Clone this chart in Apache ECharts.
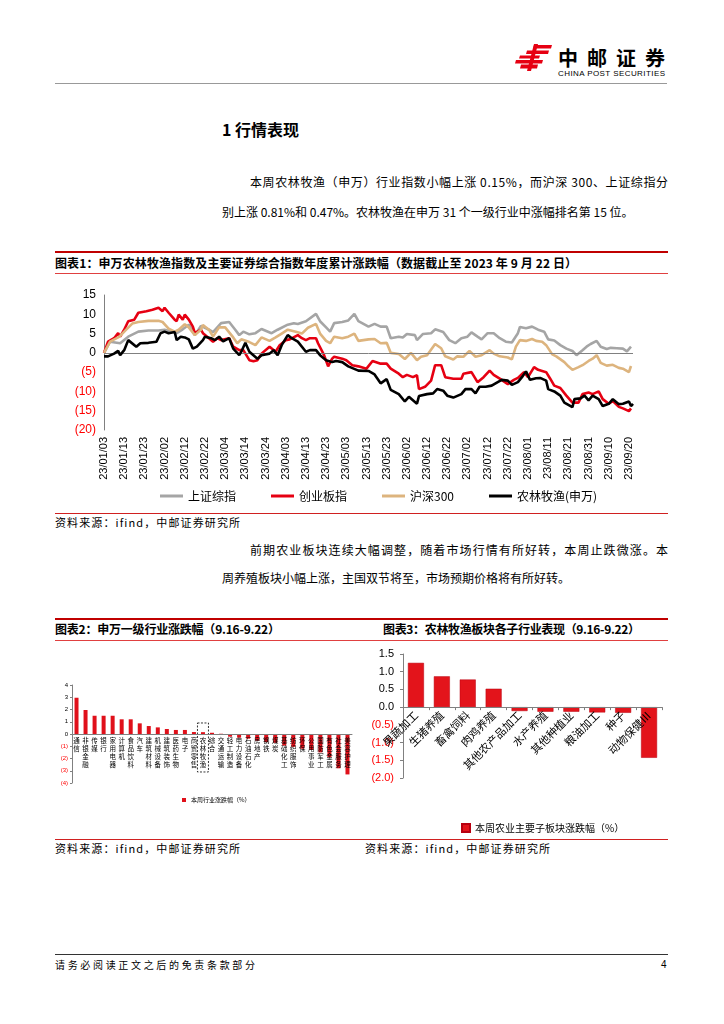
<!DOCTYPE html>
<html><head><meta charset="utf-8">
<script src="https://cdn.jsdelivr.net/npm/echarts/dist/echarts.min.js"></script>
<style>
body{margin:0;background:#fff;}
#page{position:relative;width:724px;height:1024px;overflow:hidden;font-family:"Noto Sans CJK SC","Noto Sans",sans-serif;color:#000;background:#fff;}
.t{position:absolute;white-space:nowrap;line-height:1;}
.ln{position:absolute;height:0;}
.chart{position:absolute;}
</style></head>
<body><div id="page">
<!-- header -->
<svg class="chart" style="left:510px;top:40px" width="48" height="36" viewBox="510 40 48 36">
  <polygon points="534,45 552,45 551,48.5 533,48.5" fill="#E60012"/>
  <polygon points="527,50.5 549,50.5 548,54 526,54" fill="#E60012"/>
  <polygon points="516,60 543,60 542,63.5 515,63.5" fill="#E60012"/>
  <polygon points="521,64.5 538,64.5 537,68.5 520,68.5" fill="#E60012"/>
  <polygon points="534,44 538,44 531,71 527,71" fill="#E60012"/>
  <polygon points="520,55.5 540,55.5 539,58.5 519,58.5" fill="#E60012"/>
</svg>
<div class="t" id="logoCn" style="left:558px;top:48px;font-size:20px;font-weight:700;">中邮证券</div>
<div class="t" id="logoEn" style="left:558px;top:70px;font-size:8px;font-family:'Liberation Sans',Arial,sans-serif;">CHINA POST SECURITIES</div>
<div class="ln" style="left:55px;top:83px;width:612px;border-top:1px solid #999;"></div>

<div class="t" style="left:222px;top:121px;font-size:16px;font-weight:700;">1&nbsp;行情表现</div>
<div class="t fit" data-w="418" style="left:250px;top:176px;font-size:12px;">本周农林牧渔（申万）行业指数小幅上涨 0.15%，而沪深 300、上证综指分</div>
<div class="t" style="left:222px;top:206px;font-size:12px;">别上涨 0.81%和 0.47%。农林牧渔在申万 31 个一级行业中涨幅排名第 15 位。</div>

<!-- figure 1 -->
<div class="ln" style="left:55px;top:251px;width:613px;border-top:2px solid #C00000;"></div>
<div class="t fit" data-w="522" style="left:55px;top:257px;font-size:12px;font-weight:700;">图表1：申万农林牧渔指数及主要证券综合指数年度累计涨跌幅（数据截止至 2023 年 9 月 22 日）</div>
<div class="ln" style="left:55px;top:273px;width:613px;border-top:1px solid #E04040;"></div>
<div class="chart" id="c1" style="left:55px;top:280px;width:613px;height:228px;"></div>
<div class="ln" style="left:55px;top:513px;width:613px;border-top:1px solid #D02020;"></div>
<div class="t fit" data-w="185" style="left:55px;top:517px;font-size:11px;">资料来源：ifind，中邮证券研究所</div>

<div class="t fit" data-w="418" style="left:250px;top:544px;font-size:12px;">前期农业板块连续大幅调整，随着市场行情有所好转，本周止跌微涨。本</div>
<div class="t" style="left:222px;top:572px;font-size:12px;">周养殖板块小幅上涨，主国双节将至，市场预期价格将有所好转。</div>

<!-- figures 2/3 -->
<div class="ln" style="left:55px;top:618px;width:613px;border-top:2px solid #C00000;"></div>
<div class="t fit" data-w="225" style="left:55px;top:623px;font-size:12px;font-weight:700;">图表2：申万一级行业涨跌幅（9.16-9.22）</div>
<div class="t fit" data-w="257" style="left:383px;top:623px;font-size:12px;font-weight:700;">图表3：农林牧渔板块各子行业表现（9.16-9.22）</div>
<div class="ln" style="left:55px;top:640px;width:613px;border-top:1px solid #E04040;"></div>
<div class="chart" id="c2" style="left:55px;top:645px;width:305px;height:190px;"></div>
<div class="chart" id="c3" style="left:360px;top:645px;width:308px;height:190px;"></div>
<div class="ln" style="left:55px;top:839px;width:613px;border-top:1px solid #D02020;"></div>
<div class="t fit" data-w="185" style="left:55px;top:843px;font-size:11px;">资料来源：ifind，中邮证券研究所</div>
<div class="t fit" data-w="185" style="left:365px;top:843px;font-size:11px;">资料来源：ifind，中邮证券研究所</div>

<!-- footer -->
<div class="ln" style="left:55px;top:954px;width:613px;border-top:1.5px solid #333;"></div>
<div class="t fit" data-w="200" style="left:55px;top:960px;font-size:10px;">请务必阅读正文之后的免责条款部分</div>
<div class="t" style="left:661px;top:960px;font-size:10px;font-family:'Liberation Sans',Arial,sans-serif;">4</div>
</div>
<script>
// ---------- Figure 1 data (x = calendar days since 2023-01-03) ----------
const xTickLabels = ['23/01/03','23/01/13','23/01/23','23/02/02','23/02/12','23/02/22','23/03/04','23/03/14','23/03/24','23/04/03','23/04/13','23/04/23','23/05/03','23/05/13','23/05/23','23/06/02','23/06/12','23/06/22','23/07/02','23/07/12','23/07/22','23/08/01','23/08/11','23/08/21','23/08/31','23/09/10','23/09/20'];
const seriesNames = ['上证综指','创业板指','沪深300','农林牧渔(申万)'];
const shComposite = [[0,0],[3,2.9],[8,2.5],[12,4.2],[17,5.5],[22,5.8],[27,5.8],[30,6.0],[34,5.5],[36,5.1],[39,6.1],[42,7.3],[45,4.6],[48,7.0],[52,6.0],[54,5.4],[58,7.7],[62,8.0],[65,6.0],[67,4.6],[69,5.5],[72,4.8],[75,5.1],[78,6.2],[83,5.1],[86,6.0],[91,7.3],[94,7.7],[96,7.5],[100,8.2],[105,10.1],[107,8.2],[110,6.6],[112,5.5],[114,7.7],[118,8.0],[121,8.4],[124,10.1],[126,8.2],[131,6.8],[134,7.5],[137,6.8],[140,6.8],[142,3.8],[146,4.2],[148,4.0],[150,4.9],[154,4.6],[155,3.3],[158,4.9],[162,5.1],[164,6.1],[168,5.4],[171,3.3],[174,2.5],[177,3.8],[180,4.2],[182,5.3],[185,4.2],[187,3.5],[190,5.1],[193,5.1],[196,3.8],[199,2.9],[202,2.7],[205,5.1],[206,6.7],[209,6.4],[212,6.8],[215,6.0],[218,5.5],[220,3.5],[223,3.2],[226,2.0],[229,1.1],[232,0.5],[234,-0.6],[237,0.7],[239,1.6],[241,2.3],[244,3.1],[246,1.6],[249,1.0],[251,1.3],[254,1.2],[257,1.1],[259,0.4],[261,1.6]];
const chinext = [[0,0],[2,2.9],[5,3.8],[7,5.1],[8,4.2],[10,6.0],[12,8.2],[15,8.6],[17,10.4],[21,10.8],[24,11.2],[27,11.7],[29,10.8],[30,11.7],[32,10.4],[35,8.6],[36,8.2],[37,9.9],[39,8.6],[40,9.9],[42,8.6],[44,6.8],[45,5.1],[48,6.0],[49,5.1],[52,3.8],[54,2.9],[56,3.8],[58,3.3],[62,3.8],[64,1.6],[67,0.7],[69,0.7],[72,-1.9],[74,-2.2],[76,-1.9],[78,-0.2],[82,1.6],[85,0.3],[87,2.0],[90,3.3],[92,3.5],[96,4.6],[98,3.8],[100,3.3],[102,3.8],[105,3.8],[106,2.5],[109,-0.6],[111,-3.5],[113,-1.5],[114,-1.0],[118,-1.5],[120,-1.9],[123,-3.2],[126,-3.5],[130,-4.1],[133,-2.1],[137,-2.8],[140,-2.8],[142,-4.1],[146,-5.4],[148,-6.3],[150,-5.7],[153,-6.3],[155,-5.8],[156,-9.4],[159,-8.8],[162,-7.2],[164,-3.2],[167,-3.2],[169,-6.3],[173,-6.7],[177,-6.7],[178,-5.4],[182,-5.0],[185,-7.6],[188,-6.3],[191,-4.6],[193,-5.7],[196,-6.7],[200,-8.1],[203,-7.0],[205,-6.5],[208,-5.0],[210,-6.3],[213,-3.7],[215,-4.4],[219,-5.0],[221,-6.7],[223,-8.5],[226,-9.1],[229,-11.1],[232,-12.9],[235,-12.9],[237,-10.7],[240,-10.3],[242,-10.7],[245,-10.0],[247,-12.0],[250,-13.2],[252,-12.5],[255,-14.0],[257,-14.4],[260,-15.1],[261,-14.4]];
const hs300 = [[0,0],[3,2.9],[7,4.0],[8,4.4],[11,6.0],[14,7.6],[17,8.0],[22,8.3],[27,8.3],[29,8.0],[32,6.3],[35,5.5],[37,6.0],[40,7.4],[42,6.6],[45,4.6],[48,6.0],[49,7.2],[52,6.0],[54,4.2],[57,6.6],[60,6.6],[64,4.0],[66,2.5],[68,3.5],[72,2.8],[75,2.0],[78,4.0],[82,3.1],[85,4.0],[88,5.0],[91,6.0],[95,5.5],[98,5.0],[101,6.5],[105,7.5],[107,5.0],[110,3.1],[112,2.5],[114,4.2],[118,3.8],[121,4.2],[124,5.0],[126,3.1],[131,3.5],[134,3.6],[137,2.5],[140,2.6],[142,0.0],[146,-0.3],[149,-1.6],[152,0.0],[155,-1.9],[157,-1.0],[160,-0.6],[164,2.3],[167,1.2],[169,-0.9],[173,-1.7],[175,-0.9],[178,-1.0],[181,0.5],[184,-1.0],[187,-0.6],[191,0.7],[193,-0.2],[196,-0.9],[200,-1.2],[202,-1.7],[204,1.6],[206,3.3],[209,3.1],[212,3.6],[214,3.1],[217,2.9],[219,2.0],[222,-0.4],[224,-0.9],[228,-2.4],[230,-3.5],[232,-4.4],[235,-3.7],[237,-3.2],[240,-2.1],[242,-1.5],[244,-0.6],[246,-2.6],[249,-3.3],[252,-3.1],[255,-3.9],[257,-4.1],[260,-5.0],[261,-3.4]];
const agriSW = [[0,-0.9],[2,-0.9],[5,-0.2],[7,0.5],[8,-0.6],[10,0.7],[12,3.3],[16,1.6],[18,2.5],[22,2.6],[26,2.9],[28,5.1],[30,5.5],[32,5.1],[35,5.4],[36,3.3],[38,4.2],[40,4.0],[42,3.5],[44,1.1],[46,1.6],[49,3.3],[50,4.2],[53,3.8],[55,3.3],[57,4.2],[59,3.0],[62,3.8],[64,1.1],[67,-0.6],[68,0.3],[70,2.6],[72,0.3],[74,-0.6],[76,-1.5],[78,-0.6],[82,-0.2],[84,0.7],[86,-0.6],[88,2.0],[91,4.6],[93,3.8],[96,2.9],[100,0.3],[102,0.7],[105,0.7],[107,-0.6],[110,-1.9],[113,-2.4],[115,-2.1],[118,-2.4],[121,-3.5],[126,-4.6],[131,-4.7],[134,-5.6],[137,-7.9],[140,-6.8],[142,-9.6],[146,-10.7],[149,-12.6],[151,-11.4],[155,-13.2],[156,-11.2],[160,-10.7],[163,-10.5],[165,-9.4],[168,-9.8],[170,-11.1],[173,-11.6],[177,-10.7],[179,-9.4],[182,-9.4],[184,-10.5],[186,-8.8],[189,-8.8],[192,-8.5],[195,-7.6],[197,-7.0],[200,-7.2],[202,-8.3],[205,-7.6],[207,-6.3],[209,-4.8],[211,-7.0],[214,-6.6],[216,-6.5],[219,-7.2],[220,-9.4],[223,-10.0],[226,-11.1],[228,-12.9],[232,-14.1],[233,-12.0],[236,-11.8],[238,-11.1],[240,-12.3],[242,-11.1],[245,-12.0],[247,-13.8],[250,-13.2],[252,-12.0],[255,-13.3],[257,-13.2],[260,-12.6],[261,-13.8],[262,-13.2]];

// ---------- Figure 2 data ----------
const swIndustries = ['通信','非银金融','传媒','银行','家用电器','计算机','食品饮料','汽车','建筑材料','机械设备','建筑装饰','医药生物','电子','商贸零售','农林牧渔','综合','交通运输','轻工制造','电力设备','石油石化','房地产','钢铁','煤炭','基础化工','纺织服饰','环保','公用事业','国防军工','有色金属','社会服务','美容护理'];
const swChange = [2.96,1.96,1.49,1.49,1.49,1.2,1.2,0.87,0.65,0.54,0.41,0.33,0.33,0.16,0.15,0.1,0.02,-0.22,-0.3,-0.38,-0.55,-0.66,-0.72,-0.95,-1.05,-1.2,-1.3,-1.5,-1.9,-2.8,-3.3];
const swLegend = '本周行业涨跌幅（%）';

// ---------- Figure 3 data ----------
const subIndustries = ['果蔬加工','生猪养殖','畜禽饲料','肉鸡养殖','其他农产品加工','水产养殖','其他种植业','粮油加工','种子','动物保健Ⅲ'];
const subChange = [1.25,0.87,0.78,0.52,-0.11,-0.13,-0.13,-0.15,-0.16,-1.43];
const subLegend = '本周农业主要子板块涨跌幅（%）';

const CN = '"Noto Sans CJK SC","Noto Sans",sans-serif';
const AR = '"Liberation Sans",Arial,sans-serif';

function negFmt(dec){
  return v => {
    const s = Math.abs(v).toFixed(dec);
    return v < 0 ? '{n|(' + s + ')}' : '{p|' + s + '}';
  };
}

// fit text lines
document.querySelectorAll('.fit').forEach(el=>{
  el.style.letterSpacing='0px';
  const w = el.getBoundingClientRect().width;
  const n = el.textContent.length;
  el.style.letterSpacing = ((+el.dataset.w - w)/(n-1)) + 'px';
});
(function(){
  const el=document.getElementById('logoCn');
  const w=el.getBoundingClientRect().width; el.style.letterSpacing=((107-w)/3)+'px';
  const e2=document.getElementById('logoEn');
  const w2=e2.getBoundingClientRect().width; e2.style.letterSpacing=((107-w2)/20)+'px';
})();

// ---------- Chart 1 ----------
const colors1 = ['#A5A5A5','#E60012','#DDB47E','#000000'];
const c1 = echarts.init(document.getElementById('c1'));
const s1data = [shComposite, chinext, hs300, agriSW];
c1.setOption({
  animation:false,
  grid:{left:49,right:35,top:15,height:135,containLabel:false,outerBoundsMode:'none'},
  legend:{left:100,top:205,icon:'rect',itemWidth:23,itemHeight:3,itemGap:35,
    textStyle:{fontSize:12,color:'#000',fontFamily:CN},data:seriesNames},
  xAxis:{type:'value',min:0,max:262,interval:10,
    axisLine:{show:false},axisTick:{show:false},splitLine:{show:false},
    axisLabel:{rotate:90,fontSize:11,color:'#000',fontFamily:AR,margin:7,showMaxLabel:false,
      formatter:v=> (v%10===0 && xTickLabels[v/10]) ? xTickLabels[v/10] : ''}},
  yAxis:{type:'value',min:-20,max:15,interval:5,
    axisLine:{show:true,lineStyle:{color:'#808080',width:1}},axisTick:{show:false},splitLine:{show:false},
    axisLabel:{margin:8,formatter:negFmt(0),rich:{n:{color:'#FF0000',fontSize:12,fontFamily:AR},p:{color:'#000',fontSize:12,fontFamily:AR}}}},
  series:s1data.map((d,i)=>({
    name:seriesNames[i],type:'line',data:d,showSymbol:false,symbol:'none',
    color:colors1[i],lineStyle:{width:2.6,color:colors1[i]},z:2+i,
    markLine: i===0 ? {silent:true,symbol:['none','none'],label:{show:false},
      lineStyle:{color:'#808080',width:1,type:'solid'},data:[{yAxis:0}]} : undefined
  }))
});

// ---------- Chart 2 ----------
const c2H = 98, c2Min = -4, c2Max = 4;
const c2 = echarts.init(document.getElementById('c2'));
c2.setOption({
  animation:false,
  grid:{left:17,right:8,top:40,height:c2H,containLabel:false,outerBoundsMode:'none'},
  legend:{left:122,top:147,icon:'rect',itemWidth:4,itemHeight:4,itemGap:4,
    textStyle:{fontSize:6,color:'#000',fontFamily:CN},data:[swLegend]},
  xAxis:{type:'category',data:swIndustries,offset:-c2H*(0-c2Min)/(c2Max-c2Min),z:10,
    axisLine:{onZero:false,lineStyle:{color:'#808080',width:1}},axisTick:{show:false},
    axisLabel:{interval:0,fontSize:6.5,lineHeight:8,color:'#000',fontFamily:CN,margin:3,
      formatter:s=>s.split('').join('\n')}},
  yAxis:{type:'value',min:c2Min,max:c2Max,interval:1,
    axisLine:{show:true,lineStyle:{color:'#808080',width:1}},axisTick:{show:true,length:2,lineStyle:{color:'#808080'}},splitLine:{show:false},
    axisLabel:{margin:4,formatter:negFmt(0),rich:{n:{color:'#FF0000',fontSize:6,fontFamily:AR},p:{color:'#000',fontSize:6,fontFamily:AR}}}},
  series:[{name:swLegend,type:'bar',data:swChange,barWidth:4,itemStyle:{color:'#E0101A'}}]
});
(function(){
  const idx = swIndustries.indexOf('农林牧渔');
  const p1 = c2.convertToPixel({xAxisIndex:0,yAxisIndex:0},[idx,0.9]);
  const p2 = c2.convertToPixel({xAxisIndex:0,yAxisIndex:0},[idx,-3.1]);
  c2.setOption({graphic:[{type:'rect',shape:{x:p1[0]-5.5,y:p1[1],width:11,height:p2[1]-p1[1]},
    style:{fill:'none',stroke:'#000',lineWidth:0.8,lineDash:[2,1.5]},z:10}]});
})();

// ---------- Chart 3 ----------
const c3H = 124, c3Min = -2, c3Max = 1.5;
const c3 = echarts.init(document.getElementById('c3'));
c3.setOption({
  animation:false,
  grid:{left:43,right:6,top:9,height:c3H,containLabel:false,outerBoundsMode:'none'},
  legend:{left:96,top:173,icon:'rect',itemWidth:8,itemHeight:8,itemGap:5,
    textStyle:{fontSize:10,color:'#000',fontFamily:CN},data:[subLegend]},
  xAxis:{type:'category',data:subIndustries,offset:-c3H*(0-c3Min)/(c3Max-c3Min),z:10,
    axisLine:{onZero:false,lineStyle:{color:'#808080',width:1}},axisTick:{show:true,length:3,lineStyle:{color:'#808080'}},
    axisLabel:{interval:0,rotate:45,fontSize:11,color:'#000',fontFamily:CN,margin:6}},
  yAxis:{type:'value',min:c3Min,max:c3Max,interval:0.5,
    axisLine:{show:true,lineStyle:{color:'#808080',width:1}},axisTick:{show:true,length:3,lineStyle:{color:'#808080'}},splitLine:{show:false},
    axisLabel:{margin:9,formatter:negFmt(1),rich:{n:{color:'#FF0000',fontSize:11,fontFamily:AR},p:{color:'#000',fontSize:11,fontFamily:AR}}}},
  series:[{name:subLegend,type:'bar',data:subChange,barWidth:16,itemStyle:{color:'#E3141B',borderColor:'#B80010',borderWidth:0.5}}]
});
</script>
</body></html>
